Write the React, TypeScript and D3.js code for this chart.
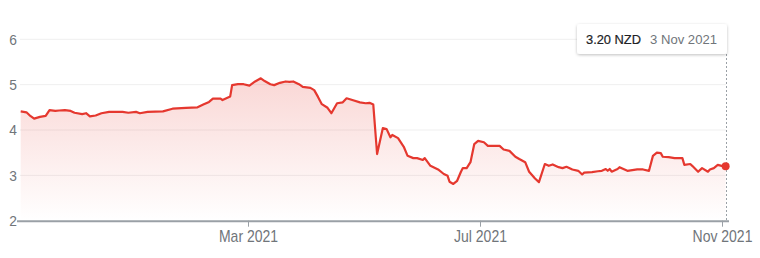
import React, { useEffect, useRef } from "react";
import * as d3 from "d3";

const dates: string[] = [
  "2020-11-03","2020-11-06","2020-11-08","2020-11-10","2020-11-13","2020-11-16","2020-11-18","2020-11-21",
  "2020-11-23","2020-11-26","2020-11-29","2020-12-01","2020-12-05","2020-12-07","2020-12-09","2020-12-12",
  "2020-12-15","2020-12-19","2020-12-22","2020-12-26","2020-12-29","2021-01-02","2021-01-04","2021-01-08",
  "2021-01-16","2021-01-21","2021-01-28","2021-02-03","2021-02-06","2021-02-09","2021-02-11","2021-02-15",
  "2021-02-16","2021-02-20","2021-02-21","2021-02-24","2021-02-27","2021-03-02","2021-03-05","2021-03-08",
  "2021-03-10","2021-03-13","2021-03-15","2021-03-18","2021-03-21","2021-03-23","2021-03-25","2021-03-28",
  "2021-03-30","2021-04-03","2021-04-05","2021-04-07","2021-04-09","2021-04-12","2021-04-14","2021-04-17",
  "2021-04-20","2021-04-22","2021-04-25","2021-04-29","2021-05-02","2021-05-04","2021-05-06","2021-05-08",
  "2021-05-11","2021-05-13","2021-05-15","2021-05-16","2021-05-19","2021-05-22","2021-05-24","2021-05-27",
  "2021-05-29","2021-06-01","2021-06-02","2021-06-05","2021-06-09","2021-06-12","2021-06-14","2021-06-15",
  "2021-06-17","2021-06-19","2021-06-21","2021-06-22","2021-06-24","2021-06-26","2021-06-28","2021-06-30",
  "2021-07-03","2021-07-05","2021-07-08","2021-07-11","2021-07-13","2021-07-16","2021-07-19","2021-07-21",
  "2021-07-24","2021-07-26","2021-07-29","2021-07-31","2021-08-03","2021-08-05","2021-08-07","2021-08-10",
  "2021-08-12","2021-08-14","2021-08-17","2021-08-20","2021-08-22","2021-08-23","2021-08-27","2021-08-30",
  "2021-09-01","2021-09-03","2021-09-04","2021-09-05","2021-09-06","2021-09-09","2021-09-10","2021-09-14",
  "2021-09-19","2021-09-22","2021-09-25","2021-09-27","2021-09-29","2021-10-01","2021-10-02","2021-10-05",
  "2021-10-08","2021-10-12","2021-10-13","2021-10-16","2021-10-17","2021-10-20","2021-10-22","2021-10-25",
  "2021-10-26","2021-10-28","2021-10-30","2021-11-01","2021-11-03",
];

const prices: number[] = [
  4.41,4.39,4.31,4.25,4.29,4.31,4.44,4.42,
  4.43,4.44,4.42,4.38,4.35,4.37,4.30,4.32,
  4.37,4.40,4.40,4.40,4.38,4.40,4.37,4.40,
  4.41,4.47,4.49,4.50,4.56,4.62,4.69,4.69,
  4.66,4.74,4.99,5.01,5.01,4.98,5.07,5.14,
  5.08,5.01,4.99,5.04,5.07,5.06,5.07,5.01,
  4.95,4.93,4.88,4.73,4.57,4.49,4.37,4.59,
  4.61,4.70,4.66,4.61,4.59,4.60,4.56,3.47,
  4.04,4.02,3.84,3.89,3.82,3.63,3.43,3.38,
  3.38,3.34,3.38,3.21,3.13,3.03,2.99,2.86,
  2.81,2.88,3.08,3.16,3.16,3.29,3.69,3.76,
  3.73,3.65,3.65,3.65,3.57,3.54,3.41,3.36,
  3.29,3.08,2.93,2.85,3.25,3.21,3.24,3.18,
  3.16,3.19,3.13,3.10,3.02,3.06,3.07,3.09,
  3.10,3.14,3.10,3.14,3.08,3.14,3.18,3.10,
  3.13,3.13,3.10,3.43,3.50,3.49,3.41,3.40,
  3.38,3.38,3.23,3.25,3.21,3.08,3.16,3.08,
  3.13,3.16,3.23,3.21,3.20,
];

const yTicks: number[] = [2, 3, 4, 5, 6];
const xTickDates: string[] = ["2021-03-01", "2021-07-01", "2021-11-01"];
const xTickLabels: string[] = ["Mar 2021", "Jul 2021", "Nov 2021"];
// breakpoints of the (non-uniform) time axis as drawn in the source
const axisDates: string[] = ["2020-11-03", "2021-03-01", "2021-07-01", "2021-11-01"];
const tooltipValue = "3.20 NZD";
const tooltipDate = "3 Nov 2021";

const W = 760;
const H = 258;
const LINE = "#e5382f";
const FONT = "Arial, 'Liberation Sans', sans-serif";

export default function App() {
  const ref = useRef<SVGSVGElement | null>(null);

  useEffect(() => {
    const svg = d3.select(ref.current);
    svg.selectAll("*").remove();
    const parse = d3.utcParse("%Y-%m-%d");
    const data = dates.map((d, i) => ({ date: parse(d) as Date, v: prices[i] }));

    const x = d3
      .scaleUtc()
      .domain(axisDates.map((d) => parse(d) as Date))
      .range([20.7, 247.5, 480, 721.7]);
    const y = d3.scaleLinear().domain([2, 6]).range([220.7, 39.3]);

    const defs = svg.append("defs");
    const grad = defs
      .append("linearGradient")
      .attr("id", "fillGrad")
      .attr("x1", 0)
      .attr("x2", 0)
      .attr("y1", 0)
      .attr("y2", 1);
    grad.append("stop").attr("offset", "0%").attr("stop-color", LINE).attr("stop-opacity", 0.2);
    grad.append("stop").attr("offset", "100%").attr("stop-color", LINE).attr("stop-opacity", 0.0);

    const filt = defs.append("filter").attr("id", "shadow").attr("x", "-20%").attr("y", "-40%").attr("width", "140%").attr("height", "180%");
    filt.append("feDropShadow").attr("dx", 0).attr("dy", 1).attr("stdDeviation", 1.5).attr("flood-color", "#000").attr("flood-opacity", 0.25);

    // gridlines
    svg
      .append("g")
      .selectAll("line")
      .data(yTicks.filter((t) => t !== 2))
      .join("line")
      .attr("x1", 20)
      .attr("x2", 726)
      .attr("y1", (d) => y(d))
      .attr("y2", (d) => y(d))
      .attr("stroke", "#efefef")
      .attr("stroke-width", 1);

    // y labels
    svg
      .append("g")
      .selectAll("text")
      .data(yTicks)
      .join("text")
      .attr("transform", (d) => `translate(17,${y(d)}) scale(0.92,1)`)
      .attr("dy", "0.36em")
      .attr("text-anchor", "end")
      .attr("font-family", FONT)
      .attr("font-size", 15)
      .attr("fill", "#70757a")
      .text((d) => String(d));

    // area
    const area = d3
      .area<{ date: Date; v: number }>()
      .x((d) => x(d.date))
      .y0(y(2))
      .y1((d) => y(d.v));
    svg
      .append("path")
      .datum(data)
      .attr("d", area)
      .attr("fill", "url(#fillGrad)");

    // line
    const line = d3
      .line<{ date: Date; v: number }>()
      .x((d) => x(d.date))
      .y((d) => y(d.v));
    svg
      .append("path")
      .datum(data)
      .attr("d", line)
      .attr("fill", "none")
      .attr("stroke", LINE)
      .attr("stroke-width", 2.2)
      .attr("stroke-linejoin", "round");

    // x axis baseline
    svg
      .append("line")
      .attr("x1", 17)
      .attr("x2", 729)
      .attr("y1", y(2) + 0.5)
      .attr("y2", y(2) + 0.5)
      .attr("stroke", "#9aa0a6")
      .attr("stroke-width", 2);

    const xt = svg.append("g");
    xTickDates.forEach((d, i) => {
      const px = Math.round(x(parse(d) as Date)) + 0.5;
      xt.append("line")
        .attr("x1", px)
        .attr("x2", px)
        .attr("y1", y(2))
        .attr("y2", y(2) + 6)
        .attr("stroke", "#9aa0a6")
        .attr("stroke-width", 1);
      xt.append("text")
        .attr("transform", `translate(${px},242) scale(0.875,1)`)
        .attr("text-anchor", "middle")
        .attr("font-family", FONT)
        .attr("font-size", 16)
        .attr("fill", "#70757a")
        .text(xTickLabels[i]);
    });

    // hover line + dot
    const last = data[data.length - 1];
    const lx = Math.round(x(last.date)) + 0.5;
    svg
      .append("line")
      .attr("x1", lx)
      .attr("x2", lx)
      .attr("y1", 54)
      .attr("y2", y(2))
      .attr("stroke", "#9aa0a6")
      .attr("stroke-width", 1)
      .attr("stroke-dasharray", "2,2");
    svg
      .append("circle")
      .attr("cx", x(last.date))
      .attr("cy", y(last.v))
      .attr("r", 4)
      .attr("fill", LINE);

    // tooltip
    const tip = svg.append("g");
    tip
      .append("rect")
      .attr("x", 577)
      .attr("y", 24)
      .attr("width", 150)
      .attr("height", 30)
      .attr("rx", 3)
      .attr("fill", "#fff")
      .attr("filter", "url(#shadow)");
    tip
      .append("text")
      .attr("x", 586)
      .attr("y", 44)
      .attr("font-family", FONT)
      .attr("font-size", 13.5)
      .attr("fill", "#202124")
      .attr("stroke", "#202124")
      .attr("stroke-width", 0.2)
      .attr("textLength", 55)
      .attr("lengthAdjust", "spacingAndGlyphs")
      .text(tooltipValue);
    tip
      .append("text")
      .attr("x", 650)
      .attr("y", 44)
      .attr("font-family", FONT)
      .attr("font-size", 13.5)
      .attr("fill", "#70757a")
      .attr("textLength", 67)
      .attr("lengthAdjust", "spacingAndGlyphs")
      .text(tooltipDate);
  }, []);

  return (
    <svg
      ref={ref}
      width={W}
      height={H}
      style={{ position: "absolute", left: 0, top: 0, background: "#fff" }}
    />
  );
}
